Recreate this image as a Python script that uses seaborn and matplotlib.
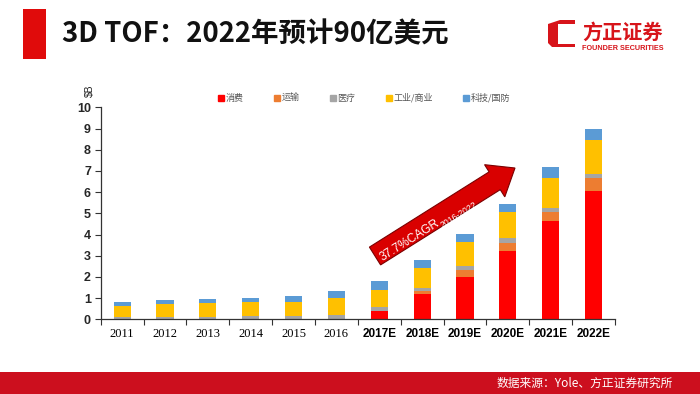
import matplotlib
matplotlib.use("Agg")
import matplotlib.pyplot as plt
import seaborn as sns
import numpy as np
import pandas as pd
from matplotlib.patches import Rectangle, Polygon
from matplotlib.lines import Line2D

# ---------------- data ----------------
years = ["2011", "2012", "2013", "2014", "2015", "2016",
         "2017E", "2018E", "2019E", "2020E", "2021E", "2022E"]
series_names = ["消费", "运输", "医疗", "工业/商业", "科技/国防"]
consumer = [0, 0, 0, 0, 0, 0, 0.38, 1.21, 2.01, 3.22, 4.64, 6.05]
transport = [0, 0, 0, 0, 0, 0, 0.03, 0.12, 0.30, 0.39, 0.41, 0.60]
medical = [0.12, 0.12, 0.12, 0.17, 0.15, 0.18, 0.18, 0.16, 0.20, 0.21, 0.20, 0.20]
industrial = [0.51, 0.59, 0.63, 0.63, 0.65, 0.81, 0.81, 0.91, 1.12, 1.23, 1.41, 1.62]
tech = [0.17, 0.20, 0.21, 0.20, 0.31, 0.33, 0.41, 0.41, 0.41, 0.40, 0.51, 0.52]
yticks = list(range(0, 11))
colors = ["#FF0000", "#ED7D31", "#A5A5A5", "#FFC000", "#5B9BD5"]

sns.set_theme(style="white")
plt.rcParams['font.family'] = ['Noto Sans CJK SC', 'DejaVu Sans']

W, H = 700, 394
fig = plt.figure(figsize=(7, 3.94), dpi=100)
fig.patch.set_facecolor("white")

def px(x, y):
    return (x / W, 1 - y / H)

# ---------------- bars ----------------
ax = fig.add_axes([100.7 / W, 1 - 319.3 / H, (615 - 100.7) / W, (319.3 - 107.3) / H])
ax.set_facecolor("white")
stack = np.cumsum(np.array([consumer, transport, medical, industrial, tech]), axis=0)
for i in reversed(range(len(series_names))):
    sns.barplot(x=years, y=stack[i], order=years, color=colors[i], width=0.4,
                saturation=1, errorbar=None, ax=ax, linewidth=0)

ax.set_xlim(-0.5, len(years) - 0.5)
ax.set_ylim(0, 10)
ax.set_yticks(yticks)
ax.set_yticklabels([str(v) for v in yticks], fontsize=9, fontweight="bold",
                   family="Liberation Sans")
ax.set_xticks(range(len(years)))
ax.set_xticks(np.arange(-0.5, len(years)), minor=True)
ax.set_xticklabels(years)
for lab, y in zip(ax.get_xticklabels(), years):
    if y.endswith("E"):
        lab.set_family("Liberation Sans")
        lab.set_fontweight("bold")
        lab.set_fontsize(8.5)
    else:
        lab.set_family("Liberation Serif")
        lab.set_fontsize(9)
ax.tick_params(axis="x", which="major", length=0, pad=6, colors="black")
ax.tick_params(axis="x", which="minor", length=4, width=0.8, direction="out",
               bottom=True, color="#333333")
ax.tick_params(axis="y", which="major", length=4, width=0.8, direction="out",
               left=True, color="#333333", pad=3)
for s in ["top", "right"]:
    ax.spines[s].set_visible(False)
for s in ["left", "bottom"]:
    ax.spines[s].set_color("#333333")
    ax.spines[s].set_linewidth(0.9)
ax.set_xlabel("")
ax.set_ylabel("")

fig.text(*px(89.5, 91), r"\$B", rotation=90, ha="center", va="center", fontsize=7.5,
         family="Liberation Sans", color="#222222")

# legend
handles = [Line2D([], [], marker="s", linestyle="none", markersize=4,
                  markerfacecolor=c, markeredgecolor=c) for c in colors]
fig.legend(handles, series_names, loc="center", bbox_to_anchor=px(364, 98),
           ncol=5, frameon=False, fontsize=6.5, labelcolor="#555555",
           handletextpad=0.1, columnspacing=3.3, handlelength=0.8)

# ---------------- arrow ----------------
tail = np.array([375.0, 256.0])
tip = np.array([515.0, 168.0])
u = (tip - tail) / np.linalg.norm(tip - tail)
n = np.array([-u[1], u[0]])
bw, hw, hl = 10.5, 19.0, 24.0
base = tip - u * hl
pts_px = [tail + n * bw, base + n * bw, base + n * hw, tip,
          base - n * hw, base - n * bw, tail - n * bw]
pts = [px(p[0], p[1]) for p in pts_px]
fig.patches.append(Polygon(pts, closed=True, transform=fig.transFigure,
                           facecolor="#D90000", edgecolor="#7A0000", linewidth=0.8,
                           zorder=5))
ang = np.degrees(np.arctan2(tail[1] - tip[1], tip[0] - tail[0]))
fig.text(*px(383, 261), "37.7%CAGR", rotation=ang, rotation_mode="anchor",
         ha="left", va="baseline", fontsize=8.6, color="white",
         family="Liberation Sans", zorder=6)
fig.text(*px(443, 228), "2016-2022", rotation=ang, rotation_mode="anchor",
         ha="left", va="baseline", fontsize=6.2, color="white",
         family="Liberation Sans", zorder=6)

# ---------------- header ----------------
fig.patches.append(Rectangle(px(23, 59), 23 / W, 50 / H, transform=fig.transFigure,
                             facecolor="#E00B0B", edgecolor="none"))
fig.text(*px(62, 34), "3D TOF：2022年预计90亿美元", ha="left", va="center",
         fontsize=19.8, fontweight="bold", color="#111111")

# logo
logo_px = [(548, 24), (560, 20), (575, 20), (575, 24), (558, 24), (558, 44),
           (575, 44), (575, 47), (552, 47), (548, 43)]
fig.patches.append(Polygon([px(*p) for p in logo_px], closed=True,
                           transform=fig.transFigure, facecolor="#D7141A",
                           edgecolor="none"))
fig.text(*px(622.5, 32), "方正证券", ha="center", va="center", fontsize=14.5,
         fontweight="bold", color="#D7141A")
fig.text(*px(622.5, 48), "FOUNDER SECURITIES", ha="center", va="center", fontsize=5.2,
         fontweight="bold", color="#D7141A", family="Liberation Sans")

# ---------------- footer ----------------
fig.patches.append(Rectangle((0, 0), 1, 22 / H, transform=fig.transFigure,
                             facecolor="#CC0F1E", edgecolor="none"))
fig.text(*px(673, 383), "数据来源：Yole、方正证券研究所", ha="right", va="center",
         fontsize=8.5, color="white")

fig.savefig("out.png", dpi=100, facecolor="white")
